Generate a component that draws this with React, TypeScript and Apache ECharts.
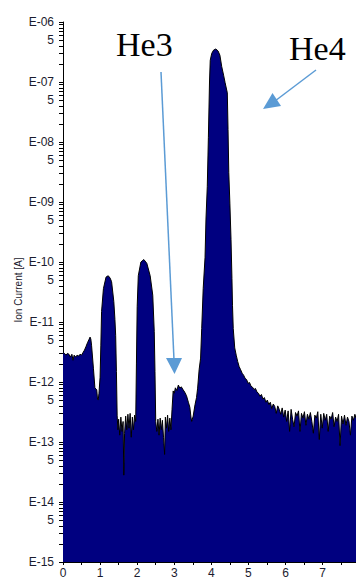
import React, { useEffect, useRef } from "react";
import * as echarts from "echarts";

// m/z (amu) positions of the sampled spectrum
const mz = [
  0.0, 0.04, 0.08, 0.12, 0.16, 0.2, 0.24, 0.27, 0.3, 0.34, 0.38, 0.42, 0.46, 0.5, 0.54, 0.58, 0.62, 0.66, 0.7, 0.73,
  0.75, 0.77, 0.82, 0.86, 0.91, 0.93, 0.95, 0.97, 1.0, 1.02, 1.04, 1.09, 1.16, 1.22, 1.27, 1.31, 1.37, 1.4, 1.42, 1.44,
  1.46, 1.48, 1.5, 1.53, 1.56, 1.59, 1.62, 1.64, 1.66, 1.69, 1.72, 1.75, 1.78, 1.81, 1.84, 1.87, 1.9, 1.93, 1.96, 1.98,
  2.0, 2.03, 2.1, 2.18, 2.26, 2.35, 2.42, 2.46, 2.48, 2.5, 2.53, 2.56, 2.59, 2.62, 2.65, 2.68, 2.71, 2.74, 2.76, 2.79,
  2.82, 2.85, 2.88, 2.91, 2.94, 2.97, 3.0, 3.03, 3.07, 3.11, 3.15, 3.19, 3.24, 3.28, 3.33, 3.38, 3.42, 3.45, 3.47, 3.51,
  3.56, 3.6, 3.63, 3.67, 3.71, 3.74, 3.78, 3.83, 3.855, 3.89, 3.92, 3.95, 3.97, 4.01, 4.06, 4.12, 4.18, 4.23, 4.28, 4.33,
  4.37, 4.43, 4.45, 4.47, 4.5, 4.53, 4.555, 4.57, 4.59, 4.63, 4.67, 4.71, 4.75, 4.79, 4.83, 4.87, 4.91, 4.95, 4.99, 5.03,
  5.07, 5.11, 5.15, 5.19, 5.23, 5.27, 5.31, 5.35, 5.39, 5.43, 5.47, 5.51, 5.55, 5.59, 5.63, 5.67, 5.71, 5.75, 5.79, 5.83,
  5.87, 5.91, 5.95, 5.99, 6.03, 6.07, 6.11, 6.15, 6.19, 6.23, 6.27, 6.31, 6.35, 6.39, 6.43, 6.47, 6.51, 6.55, 6.59, 6.63,
  6.67, 6.71, 6.75, 6.79, 6.83, 6.87, 6.91, 6.95, 6.99, 7.03, 7.07, 7.11, 7.15, 7.19, 7.23, 7.27, 7.31, 7.35, 7.39, 7.43,
  7.47, 7.51, 7.55, 7.59, 7.63, 7.67, 7.71, 7.75, 7.79, 7.83, 7.87, 7.9,
];

// Ion current [A] at each m/z position
const ionCurrent = [
  3.1e-12, 3.0e-12, 2.8e-12, 3.0e-12, 2.9e-12, 2.6e-12, 2.9e-12, 2.3e-12, 2.8e-12, 2.6e-12, 2.8e-12, 2.7e-12, 2.9e-12, 2.8e-12, 3.1e-12, 3.4e-12, 3.9e-12, 4.5e-12, 5.1e-12, 5.6e-12,
  5.2e-12, 4.1e-12, 1.7e-12, 8.0e-13, 7.4e-13, 5.2e-13, 5.0e-13, 6.5e-13, 1.2e-12, 4.0e-12, 1.5e-11, 3.6e-11, 5.6e-11, 5.9e-11, 5.4e-11, 4.7e-11, 2.2e-11, 1.1e-11, 6.0e-12, 1.5e-12,
  2.8e-13, 1.6e-13, 2.4e-13, 1.3e-13, 2.6e-13, 1.5e-13, 2.2e-13, 2.8e-14, 1.4e-13, 2.7e-13, 1.6e-13, 2.9e-13, 1.7e-13, 3.0e-13, 1.2e-13, 2.6e-13, 1.6e-13, 2.8e-13, 2.2e-13, 2.0e-12,
  1.8e-11, 5.9e-11, 1.0e-10, 1.1e-10, 9.5e-11, 5.9e-11, 2.8e-11, 7.0e-12, 1.5e-12, 2.2e-13, 1.5e-13, 2.4e-13, 1.3e-13, 2.5e-13, 1.6e-13, 2.3e-13, 1.2e-13, 6.2e-14, 2.6e-13, 1.7e-13,
  2.8e-13, 1.5e-13, 2.5e-13, 1.6e-13, 3.5e-13, 7.1e-13, 6.5e-13, 8.0e-13, 7.2e-13, 8.9e-13, 7.9e-13, 8.3e-13, 7.4e-13, 6.8e-13, 5.9e-13, 4.6e-13, 3.8e-13, 2.6e-13, 2.2e-13, 2.7e-13,
  4.2e-13, 5.5e-13, 7.9e-13, 1.6e-12, 2.5e-12, 7.8e-12, 3.6e-11, 1.2e-10, 5.2e-10, 1.8e-9, 1.2e-8, 1.0e-7, 2.3e-7, 3.0e-7, 3.4e-7, 3.55e-7, 3.3e-7, 2.8e-7, 1.8e-7, 1.3e-7,
  9.8e-8, 6.6e-8, 1.6e-8, 3.1e-9, 9.3e-10, 2.4e-10, 5.3e-11, 1.9e-11, 7.8e-12, 3.7e-12, 2.8e-12, 2.2e-12, 1.8e-12, 1.6e-12, 1.4e-12, 1.3e-12, 1.15e-12, 1.1e-12, 9.5e-13, 9.8e-13,
  8.5e-13, 8.2e-13, 7.5e-13, 7.8e-13, 6.8e-13, 6.5e-13, 5.8e-13, 6.2e-13, 5.2e-13, 5.5e-13, 4.6e-13, 5.0e-13, 4.2e-13, 4.6e-13, 3.6e-13, 4.3e-13, 3.9e-13, 3.0e-13, 4.0e-13, 3.5e-13,
  2.9e-13, 3.7e-13, 2.6e-13, 3.4e-13, 2.2e-13, 3.3e-13, 1.5e-13, 3.5e-13, 2.4e-13, 1.8e-13, 3.1e-13, 2.7e-13, 3.3e-13, 1.5e-13, 3.0e-13, 2.5e-13, 3.2e-13, 1.9e-13, 2.9e-13, 2.4e-13,
  3.1e-13, 2.2e-13, 1.4e-13, 2.8e-13, 2.5e-13, 3.2e-13, 1.1e-13, 2.9e-13, 1.7e-13, 3.0e-13, 2.3e-13, 2.9e-13, 1.5e-13, 2.7e-13, 2.4e-13, 3.1e-13, 1.8e-13, 2.6e-13, 2.2e-13, 2.9e-13,
  8.7e-14, 2.7e-13, 2.0e-13, 2.8e-13, 1.9e-13, 2.6e-13, 2.2e-13, 1.3e-13, 2.7e-13, 2.3e-13, 2.9e-13, 2.5e-13,
];

// Axis ticks / labels
const xLabelValues = [0, 1, 2, 3, 4, 5, 6, 7];
const xTickValues = [0, 0.5, 1, 1.5, 2, 2.5, 3, 3.5, 4, 4.5, 5, 5.5, 6, 6.5, 7, 7.5];
const decadeExponents = [-15, -14, -13, -12, -11, -10, -9, -8, -7, -6];
const minorMultipliers = [2, 3, 4, 5, 6, 7, 8, 9];
const labelledMultiplier = 5;
const yAxisName = "Ion Current [A]";
const annotations = ["He3", "He4"];

const BLUE = "#5b9bd5";
const LABEL_FONT = '"Liberation Sans", Arial, sans-serif';

export default function App() {
  const ref = useRef<HTMLDivElement>(null);

  useEffect(() => {
    if (!ref.current) return;
    const chart = echarts.init(ref.current, null, { renderer: "svg" });

    const data = mz.map((x, i) => [x, Math.log10(ionCurrent[i])]);

    const yTicks: number[] = [];
    const yLabels: number[] = [];
    decadeExponents.forEach((e, idx) => {
      yTicks.push(e);
      yLabels.push(e);
      if (idx < decadeExponents.length - 1) {
        minorMultipliers.forEach((m) => yTicks.push(e + Math.log10(m)));
        yLabels.push(e + Math.log10(labelledMultiplier));
      }
    });

    chart.setOption({
      animation: false,
      grid: { left: 63, top: 22, width: 293, height: 543, containLabel: false },
      xAxis: {
        type: "value",
        min: 0,
        max: 7.9,
        interval: 1,
        axisLine: { show: true, lineStyle: { color: "#000", width: 1 } },
        axisTick: { show: true, length: 3, customValues: xTickValues, lineStyle: { color: "#000" } },
        axisLabel: {
          customValues: xLabelValues,
          color: "#1b1b2e",
          fontSize: 12,
          fontFamily: LABEL_FONT,
          margin: 5,
        },
        splitLine: { show: false },
      },
      yAxis: {
        type: "value",
        min: -15,
        max: -6,
        interval: 1,
        axisLine: { show: true, lineStyle: { color: "#000", width: 1 } },
        axisTick: { show: true, length: 4, customValues: yTicks, lineStyle: { color: "#000" } },
        axisLabel: {
          customValues: yLabels,
          color: "#1b1b2e",
          fontSize: 12,
          fontFamily: LABEL_FONT,
          margin: 9,
          formatter: (v: number) => {
            const r = Math.round(v);
            if (Math.abs(v - r) < 1e-6) {
              return "E-" + String(-r).padStart(2, "0");
            }
            return String(labelledMultiplier);
          },
        },
        splitLine: { show: false },
      },
      series: [
        {
          type: "line",
          data,
          showSymbol: false,
          symbol: "none",
          sampling: undefined,
          lineStyle: { color: "#000", width: 1 },
          areaStyle: { color: "#000080", opacity: 1, origin: "start" },
          z: 2,
        },
      ],
      graphic: [
        {
          type: "text",
          x: 18,
          y: 290,
          rotation: Math.PI / 2,
          style: {
            text: yAxisName,
            font: `10px ${LABEL_FONT}`,
            fill: "#1b1b2e",
            align: "center",
            verticalAlign: "middle",
          },
        },
        {
          type: "text",
          x: 116,
          y: 44,
          style: {
            text: annotations[0],
            font: '34px "Liberation Serif", "Times New Roman", serif',
            fill: "#000",
            align: "left",
            verticalAlign: "middle",
          },
        },
        {
          type: "text",
          x: 289,
          y: 48,
          style: {
            text: annotations[1],
            font: '34px "Liberation Serif", "Times New Roman", serif',
            fill: "#000",
            align: "left",
            verticalAlign: "middle",
          },
        },
        {
          type: "line",
          shape: { x1: 161, y1: 72, x2: 174, y2: 360 },
          style: { stroke: BLUE, lineWidth: 1.5 },
          z: 10,
        },
        {
          type: "polygon",
          shape: { points: [[166, 358], [182, 358], [174.5, 374]] },
          style: { fill: BLUE },
          z: 10,
        },
        {
          type: "line",
          shape: { x1: 316, y1: 70, x2: 275, y2: 101 },
          style: { stroke: BLUE, lineWidth: 1.5 },
          z: 10,
        },
        {
          type: "polygon",
          shape: { points: [[263, 109], [272.5, 93], [281, 106]] },
          style: { fill: BLUE },
          z: 10,
        },
      ],
    });

    return () => chart.dispose();
  }, []);

  return (
    <div
      ref={ref}
      style={{ position: "fixed", left: 0, top: 0, width: 356, height: 579, background: "#fff" }}
    />
  );
}
